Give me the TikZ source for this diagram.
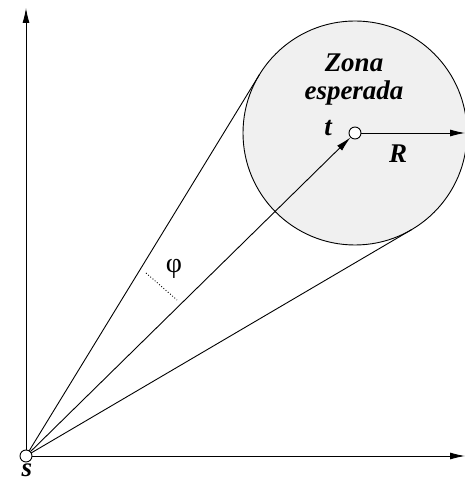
\documentclass[tikz,border=0pt]{standalone}
\usepackage{fontspec}
\setmainfont{Liberation Serif}
\usetikzlibrary{arrows.meta,calc}
\begin{document}
\begin{tikzpicture}[x=1pt,y=1pt,
  line width=0.9pt,
  arr/.style={-{Latex[length=15pt,width=7pt]}},
  dot/.style={circle,draw,fill=white,inner sep=0pt,minimum size=12pt,line width=0.9pt},
  lbl/.style={font=\fontsize{27}{29}\selectfont\bfseries\itshape,inner sep=0pt}]
\useasboundingbox (0,0) rectangle (465,484);
\node[circle,draw,fill=black!6,minimum size=224pt,inner sep=0pt,outer sep=0pt,line width=0.9pt] (zone) at (355,351) {};
\coordinate (s) at (26,28);
\coordinate (ytop) at (26,476);
\coordinate (xend) at (465,28);
\coordinate (rend) at (465,351);
\draw[arr] (s) -- (ytop);
\draw[arr] (s) -- (xend);
\draw (s) -- (tangent cs:node=zone,point={(s)},solution=1);
\draw (s) -- (tangent cs:node=zone,point={(s)},solution=2);
\node[dot] (t) at (355,351) {};
\draw[arr] (t) -- (rend);
\node[dot] (sn) at (s) {};
\draw[arr] (sn) -- (t);
\coordinate (d1) at (146,211);
\coordinate (d2) at (177,184);
\draw[dotted] (d1) -- (d2);
\node[font=\fontsize{28}{30}\selectfont,inner sep=0pt] (phi) at (174,215) {φ};
\node[lbl] (zona) at (354,421) {Zona};
\node[lbl] (esp) at (354,391) {esperada};
\node[lbl] (tl) at (328,356) {t};
\node[lbl] (rl) at (398,330) {R};
\node[lbl,anchor=base] (sl) at (27,7) {s};
\end{tikzpicture}
\end{document}
